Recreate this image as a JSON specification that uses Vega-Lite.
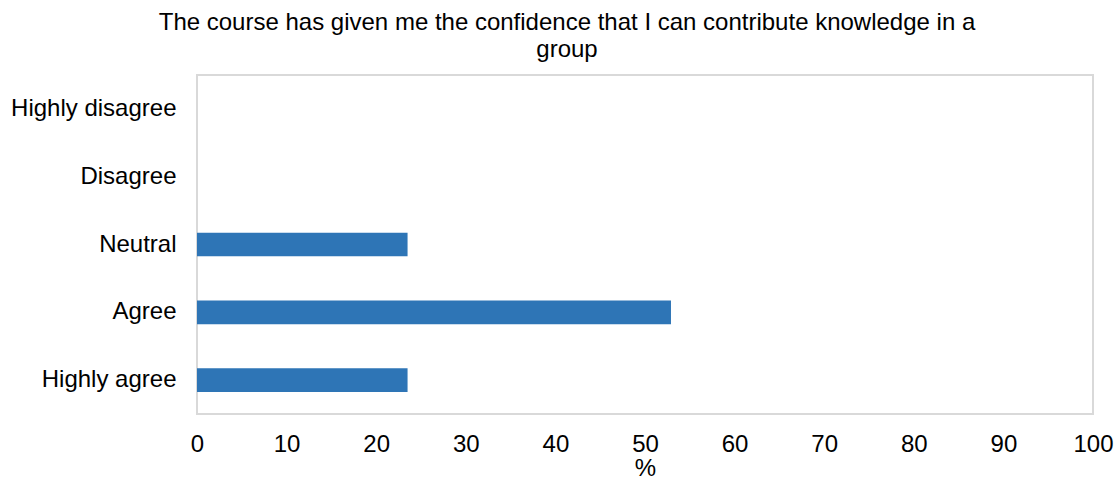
{
  "$schema": "https://vega.github.io/schema/vega-lite/v6.json",
  "autosize": {"type": "none"},
  "width": 896,
  "height": 339,
  "padding": {"left": 197, "top": 75, "right": 25, "bottom": 65},
  "background": "white",
  "config": {
    "font": "Liberation Sans",
    "view": {"stroke": "#D9D9D9", "strokeWidth": 2},
    "axis": {"grid": false, "domain": false, "ticks": false, "labelColor": "#000000", "titleColor": "#000000"}
  },
  "title": {
    "text": ["The course has given me the confidence that I can contribute knowledge in a", "group"],
    "fontSize": 24,
    "fontWeight": "normal",
    "color": "#000000",
    "anchor": "middle",
    "frame": "group",
    "dx": -78,
    "dy": 23,
    "baseline": "alphabetic",
    "lineHeight": 27,
    "offset": 17
  },
  "data": {
    "values": [
      {"response": "Highly disagree", "percent": 0},
      {"response": "Disagree", "percent": 0},
      {"response": "Neutral", "percent": 23.5},
      {"response": "Agree", "percent": 52.9},
      {"response": "Highly agree", "percent": 23.5}
    ]
  },
  "mark": {"type": "bar", "color": "#2E75B6"},
  "encoding": {
    "y": {
      "field": "response",
      "type": "nominal",
      "sort": ["Highly disagree", "Disagree", "Neutral", "Agree", "Highly agree"],
      "scale": {"paddingInner": 0.65, "paddingOuter": 0.325},
      "axis": {"title": null, "labelFontSize": 24, "labelPadding": 21, "labelLimit": 300}
    },
    "x": {
      "field": "percent",
      "type": "quantitative",
      "scale": {"domain": [0, 100], "nice": false},
      "axis": {
        "title": "%",
        "values": [0, 10, 20, 30, 40, 50, 60, 70, 80, 90, 100],
        "labelFontSize": 24,
        "labelFlush": false,
        "labelOverlap": false,
        "labelPadding": 18,
        "titleFontSize": 24,
        "titleFontWeight": "normal",
        "titlePadding": 0
      }
    }
  }
}
